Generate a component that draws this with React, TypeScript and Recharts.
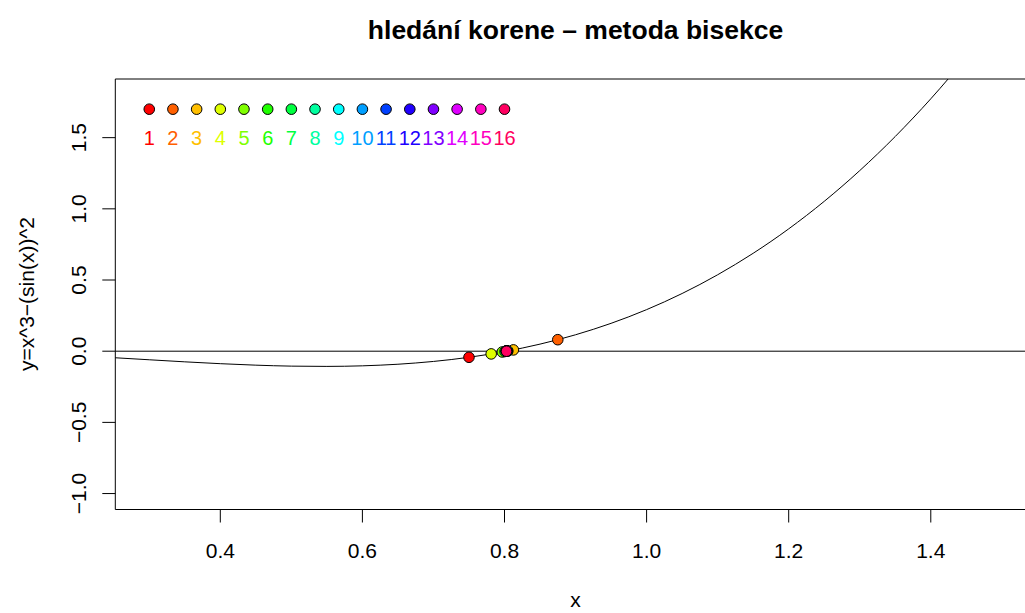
import React from 'react';
import { ComposedChart, Line, Scatter, XAxis, YAxis, ReferenceLine, ReferenceArea } from 'recharts';

const X_DOMAIN = [0.2522, 1.5478];
const Y_DOMAIN = [-1.112, 1.912];
const X_TICKS = [0.4, 0.6, 0.8, 1.0, 1.2, 1.4];
const Y_TICKS = [-1.0, -0.5, 0.0, 0.5, 1.0, 1.5];

// sampled curve y = x^3 - sin(x)^2
const CURVE_X = [0.25, 0.3, 0.35, 0.4, 0.45, 0.5, 0.55, 0.6, 0.65, 0.7, 0.75, 0.8, 0.85, 0.9, 0.95, 1.0, 1.05, 1.1, 1.15, 1.2, 1.25, 1.3, 1.35, 1.4, 1.45];
const CURVE_Y = [-0.0456, -0.0603, -0.0747, -0.0877, -0.0981, -0.1049, -0.1068, -0.1028, -0.0916, -0.072, -0.0428, -0.0026, 0.0497, 0.1154, 0.1957, 0.2919, 0.4052, 0.5368, 0.6877, 0.8593, 1.0526, 1.2686, 1.5083, 1.7729, 2.0632];

// bisection midpoints
const STEP_X = [0.75, 0.875, 0.8125, 0.78125, 0.796875, 0.8046875, 0.80078, 0.80273, 0.80371, 0.80322, 0.80298, 0.80286, 0.8028, 0.80283, 0.80281, 0.8028];
const STEP_Y = [-0.0428, 0.0808, 0.0091, -0.0191, -0.0055, 0.0017, -0.0019, -0.0001, 0.0008, 0.0004, 0.0002, 0.0001, 0.0, 0.0, 0.0, 0.0];

const COLORS = ['#FF0000', '#FF6000', '#FFBF00', '#DFFF00', '#80FF00', '#20FF00', '#00FF40', '#00FF9F', '#00FFFF', '#009FFF', '#0040FF', '#2000FF', '#8000FF', '#DF00FF', '#FF00BF', '#FF0060'];

const KEY_X = [0.3, 0.3333, 0.3667, 0.4, 0.4333, 0.4667, 0.5, 0.5333, 0.5667, 0.6, 0.6333, 0.6667, 0.7, 0.7333, 0.7667, 0.8];
const KEY_DOT_Y = 1.7;
const KEY_TEXT_Y = 1.5;

const FONT = '"Liberation Sans", Arial, sans-serif';

const curveData = CURVE_X.map((x, i) => ({ x, y: CURVE_Y[i] }));
const stepData = STEP_X.map((x, i) => ({ x, y: STEP_Y[i], color: COLORS[i] }));
const keyDots = KEY_X.map((x, i) => ({ x, y: KEY_DOT_Y, color: COLORS[i] }));
const keyText = KEY_X.map((x, i) => ({ x, y: KEY_TEXT_Y, color: COLORS[i], n: i + 1 }));

const fmt = (v: number) => (v < 0 ? '\u2212' : '') + Math.abs(v).toFixed(1);

const Dot = (p: any) => (
    <circle cx={p.cx} cy={p.cy} r={5.3} fill={p.payload.color} stroke="#000" strokeWidth={1} />
);

const KeyLabel = (p: any) => (
    <text x={p.cx} y={p.cy} textAnchor="middle" dominantBaseline="central" fill={p.payload.color} fontSize={20} fontFamily={FONT}>
        {p.payload.n}
    </text>
);

const YTick = (p: any) => (
    <text x={p.x} y={p.y} transform={`rotate(-90 ${p.x} ${p.y})`} textAnchor="middle" fontSize={21} fontFamily={FONT} fill="#000">
        {fmt(p.payload.value)}
    </text>
);

export default function App() {
    return (
        <div style={{ position: 'absolute', left: 0, top: 0, width: 1025, height: 613, overflow: 'hidden', background: '#fff' }}>
            <div style={{ position: 'absolute', left: 0, top: 15, width: 1151, textAlign: 'center', fontFamily: FONT, fontWeight: 'bold', fontSize: 26.5 }}>
                hledání korene – metoda bisekce
            </div>
            <ComposedChart width={1040} height={613} margin={{ top: 79, right: 4.2, left: 0, bottom: 0 }}>
                <XAxis
                    type="number"
                    dataKey="x"
                    domain={X_DOMAIN}
                    ticks={X_TICKS}
                    allowDataOverflow
                    axisLine={false}
                    tickLine={{ stroke: '#000' }}
                    tickSize={13}
                    tickMargin={21}
                    height={103.5}
                    tickFormatter={fmt}
                    tick={{ fill: '#000', fontSize: 21, fontFamily: FONT }}
                    label={{ content: () => (
                        <text x={575.5} y={607} textAnchor="middle" fontSize={21} fontFamily={FONT} fill="#000">x</text>
                    ) }}
                />
                <YAxis
                    type="number"
                    dataKey="y"
                    domain={Y_DOMAIN}
                    ticks={Y_TICKS}
                    allowDataOverflow
                    axisLine={false}
                    tickLine={{ stroke: '#000' }}
                    tickSize={13}
                    tickMargin={16}
                    width={115.3}
                    tick={YTick}
                    label={{ content: () => (
                        <text x={34} y={294} transform="rotate(-90 34 294)" textAnchor="middle" fontSize={21} fontFamily={FONT} fill="#000">
                            y=x^3−(sin(x))^2
                        </text>
                    ) }}
                />
                <ReferenceArea x1={X_DOMAIN[0]} x2={X_DOMAIN[1]} y1={Y_DOMAIN[0]} y2={Y_DOMAIN[1]} fill="none" fillOpacity={0} stroke="#000" strokeWidth={1} />
                <ReferenceLine y={0} stroke="#000" strokeWidth={1} />
                <Line data={curveData} dataKey="y" type="monotone" stroke="#000" strokeWidth={1} dot={false} isAnimationActive={false} />
                <Scatter data={stepData} dataKey="y" shape={Dot} isAnimationActive={false} />
                <Scatter data={keyDots} dataKey="y" shape={Dot} isAnimationActive={false} />
                <Scatter data={keyText} dataKey="y" shape={KeyLabel} isAnimationActive={false} />
            </ComposedChart>
        </div>
    );
}
